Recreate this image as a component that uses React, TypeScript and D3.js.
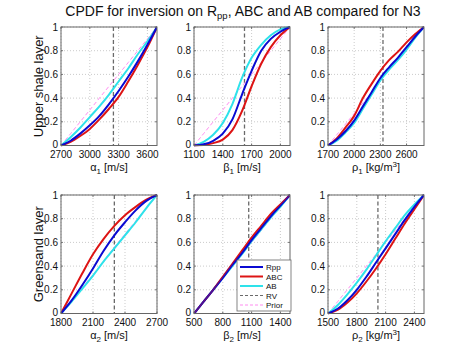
import React from "react";
import * as d3 from "d3";

// ---------- DATA ----------
const xA1 = [2700, 2800, 2900, 3000, 3100, 3200, 3300, 3400, 3500, 3600, 3700];
const rppA1 = [0, 0.04, 0.1, 0.17, 0.25, 0.35, 0.46, 0.58, 0.71, 0.85, 1.0];
const abcA1 = [0, 0.03, 0.08, 0.14, 0.22, 0.31, 0.41, 0.54, 0.68, 0.83, 1.0];
const abA1 = [0, 0.07, 0.15, 0.24, 0.33, 0.43, 0.54, 0.65, 0.77, 0.88, 1.0];
const priorA1 = [0, 0.1, 0.2, 0.3, 0.4, 0.5, 0.6, 0.7, 0.8, 0.9, 1.0];

const xB1 = [1100, 1200, 1300, 1400, 1500, 1600, 1700, 1800, 1900, 2000, 2100];
const rppB1 = [0, 0.01, 0.04, 0.1, 0.22, 0.43, 0.63, 0.8, 0.9, 0.96, 1.0];
const abcB1 = [0, 0.005, 0.02, 0.05, 0.13, 0.29, 0.5, 0.69, 0.83, 0.93, 1.0];
const abB1 = [0, 0.03, 0.09, 0.19, 0.35, 0.57, 0.74, 0.85, 0.93, 0.98, 1.0];
const priorB1 = [0, 0.1, 0.2, 0.3, 0.4, 0.5, 0.6, 0.7, 0.8, 0.9, 1.0];

const xR1 = [1700, 1800, 1900, 2000, 2100, 2200, 2300, 2400, 2500, 2600, 2700, 2800];
const rppR1 = [0, 0.05, 0.12, 0.21, 0.33, 0.45, 0.57, 0.66, 0.74, 0.83, 0.92, 1.0];
const abcR1 = [0, 0.06, 0.15, 0.25, 0.4, 0.52, 0.63, 0.72, 0.79, 0.87, 0.94, 1.0];
const abR1 = [0, 0.04, 0.11, 0.19, 0.31, 0.43, 0.55, 0.64, 0.72, 0.81, 0.91, 1.0];
const priorR1 = [0, 0.09, 0.18, 0.27, 0.36, 0.45, 0.55, 0.64, 0.73, 0.82, 0.91, 1.0];

const xA2 = [1800, 1900, 2000, 2100, 2200, 2300, 2400, 2500, 2600, 2700];
const rppA2 = [0, 0.11, 0.24, 0.38, 0.53, 0.66, 0.77, 0.87, 0.95, 1.0];
const abcA2 = [0, 0.17, 0.34, 0.5, 0.63, 0.74, 0.83, 0.9, 0.96, 1.0];
const abA2 = [0, 0.1, 0.21, 0.32, 0.44, 0.55, 0.66, 0.77, 0.89, 1.0];
const priorA2 = [0, 0.11, 0.22, 0.33, 0.44, 0.56, 0.67, 0.78, 0.89, 1.0];

const xB2 = [500, 600, 700, 800, 900, 1000, 1100, 1200, 1300, 1400, 1500];
const rppB2 = [0, 0.1, 0.2, 0.3, 0.41, 0.51, 0.62, 0.72, 0.82, 0.91, 1.0];
const abcB2 = [0, 0.1, 0.2, 0.31, 0.42, 0.53, 0.64, 0.74, 0.84, 0.92, 1.0];
const abB2 = [0, 0.1, 0.2, 0.3, 0.4, 0.5, 0.61, 0.71, 0.81, 0.9, 1.0];
const priorB2 = [0, 0.1, 0.2, 0.3, 0.4, 0.5, 0.6, 0.7, 0.8, 0.9, 1.0];

const xR2 = [1500, 1600, 1700, 1800, 1900, 2000, 2100, 2200, 2300, 2400, 2500];
const rppR2 = [0, 0.04, 0.11, 0.2, 0.31, 0.43, 0.55, 0.67, 0.79, 0.9, 1.0];
const abcR2 = [0, 0.03, 0.09, 0.17, 0.27, 0.38, 0.5, 0.63, 0.76, 0.88, 1.0];
const abR2 = [0, 0.07, 0.16, 0.26, 0.37, 0.49, 0.61, 0.72, 0.83, 0.92, 1.0];
const priorR2 = [0, 0.1, 0.2, 0.3, 0.4, 0.5, 0.6, 0.7, 0.8, 0.9, 1.0];

const rvValues = [3246, 1626, 2330, 2300, 1070, 2020];
const xDomains: [number, number][] = [
  [2700, 3700], [1100, 2100], [1700, 2800],
  [1800, 2700], [500, 1500], [1500, 2500],
];
const xTickSets = [
  [2700, 3000, 3300, 3600], [1100, 1400, 1700, 2000], [1700, 2000, 2300, 2600],
  [1800, 2100, 2400, 2700], [500, 800, 1100, 1400], [1500, 1800, 2100, 2400],
];
const yTicks = [0, 0.2, 0.4, 0.6, 0.8, 1];
const yTickLabels = ["0", "0.2", "0.4", "0.6", "0.8", "1"];
const seriesNames = ["Rpp", "ABC", "AB", "RV", "Prior"];
const rowLabels = ["Upper shale layer", "Greensand layer"];
const axisSym = ["α", "β", "ρ", "α", "β", "ρ"];
const axisSub = ["1", "1", "1", "2", "2", "2"];
const axisUnit = ["m/s", "m/s", "kg/m", "m/s", "m/s", "kg/m"];

const panels = [
  { x: xA1, rpp: rppA1, abc: abcA1, ab: abA1, prior: priorA1 },
  { x: xB1, rpp: rppB1, abc: abcB1, ab: abB1, prior: priorB1 },
  { x: xR1, rpp: rppR1, abc: abcR1, ab: abR1, prior: priorR1 },
  { x: xA2, rpp: rppA2, abc: abcA2, ab: abA2, prior: priorA2 },
  { x: xB2, rpp: rppB2, abc: abcB2, ab: abB2, prior: priorB2 },
  { x: xR2, rpp: rppR2, abc: abcR2, ab: abR2, prior: priorR2 },
];

// ---------- STYLE ----------
const W = 474, H = 355;
const colLeft = [61, 194, 328];
const rowTop = [27, 195];
const PW = 96, PH = 118.5;
const C_RPP = "#0a0ad2", C_ABC = "#dd1414", C_AB = "#2ee2ea", C_PRIOR = "#ff8cf0", C_RV = "#6a6a6a";
const FONT = "'Liberation Sans', Arial, Helvetica, sans-serif";

function Panel({ i }: { i: number }) {
  const r = Math.floor(i / 3), c = i % 3;
  const left = colLeft[c], top = rowTop[r];
  const x = d3.scaleLinear().domain(xDomains[i]).range([left, left + PW]);
  const y = d3.scaleLinear().domain([0, 1]).range([top + PH, top]);
  const p = panels[i];
  const line = (vals: number[]) =>
    d3.line<number>().x((_, k) => x(p.x[k])).y((v) => y(v)).curve(d3.curveMonotoneX)(vals) || "";
  const clipId = `clip${i}`;
  const xt = xTickSets[i];
  return (
    <g>
      <defs>
        <clipPath id={clipId}>
          <rect x={left} y={top - 1} width={PW} height={PH + 2} />
        </clipPath>
      </defs>
      <rect x={left} y={top} width={PW} height={PH} fill="#fff" />
      {/* grid */}
      {xt.map((t) => (
        <line key={"gx" + t} x1={x(t)} x2={x(t)} y1={top} y2={top + PH} stroke="#b4b4b4" strokeWidth={0.7} strokeDasharray="1,2" />
      ))}
      {yTicks.map((t) => (
        <line key={"gy" + t} x1={left} x2={left + PW} y1={y(t)} y2={y(t)} stroke="#b4b4b4" strokeWidth={0.7} strokeDasharray="1,2" />
      ))}
      <g clipPath={`url(#${clipId})`}>
        <line x1={x(rvValues[i])} x2={x(rvValues[i])} y1={top} y2={top + PH} stroke={C_RV} strokeWidth={1.3} strokeDasharray="4,2.5" />
        <path d={line(p.prior)} fill="none" stroke={C_PRIOR} strokeWidth={1} strokeDasharray="4,2.5" />
        <path d={line(p.ab)} fill="none" stroke={C_AB} strokeWidth={2} />
        <path d={line(p.abc)} fill="none" stroke={C_ABC} strokeWidth={2} />
        <path d={line(p.rpp)} fill="none" stroke={C_RPP} strokeWidth={2} />
        {i === 4 && (
          <path d={line(p.abc)} fill="none" stroke={C_ABC} strokeWidth={1} strokeOpacity={0.6} />
        )}
      </g>
      {/* ticks */}
      {xt.map((t) => (
        <g key={"tx" + t}>
          <line x1={x(t)} x2={x(t)} y1={top + PH} y2={top + PH - 2} stroke="#555" strokeWidth={0.8} />
          <line x1={x(t)} x2={x(t)} y1={top} y2={top + 2} stroke="#555" strokeWidth={0.8} />
          <text x={x(t)} y={top + PH + 12} fontSize={10} textAnchor="middle" fill="#111">{t}</text>
        </g>
      ))}
      {yTicks.map((t, k) => (
        <g key={"ty" + t}>
          <line x1={left} x2={left + 2} y1={y(t)} y2={y(t)} stroke="#555" strokeWidth={0.8} />
          <line x1={left + PW} x2={left + PW - 2} y1={y(t)} y2={y(t)} stroke="#555" strokeWidth={0.8} />
          <text x={left - 3} y={y(t) + (k === 0 ? 2 : 3.5)} fontSize={10} textAnchor="end" fill="#111">{yTickLabels[k]}</text>
        </g>
      ))}
      <rect x={left} y={top} width={PW} height={PH} fill="none" stroke="#666" strokeWidth={1} />
      {/* x label */}
      <text x={left + PW / 2} y={top + PH + 25.5} fontSize={11} textAnchor="middle" fill="#111">
        {axisSym[i]}
        <tspan fontSize={8} dy={3}>{axisSub[i]}</tspan>
        <tspan dy={-3}>{" [" + axisUnit[i]}</tspan>
        {axisUnit[i] === "kg/m" ? (
          <>
            <tspan fontSize={8} dy={-4}>3</tspan>
            <tspan dy={4}>]</tspan>
          </>
        ) : (
          <tspan>]</tspan>
        )}
      </text>
      {i === 4 && <Legend />}
    </g>
  );
}

function Legend() {
  const lx = 237, ly = 260, lw = 54, lh = 51;
  const styles = [
    { c: C_RPP, w: 2, d: "" },
    { c: C_ABC, w: 2, d: "" },
    { c: C_AB, w: 2, d: "" },
    { c: C_RV, w: 1, d: "3,2" },
    { c: C_PRIOR, w: 1, d: "3,2" },
  ];
  return (
    <g>
      <rect x={lx} y={ly} width={lw} height={lh} fill="#fff" stroke="#666" strokeWidth={0.8} />
      {seriesNames.map((n, k) => {
        const yy = ly + 7 + k * 9.5;
        return (
          <g key={n}>
            <line x1={lx + 3} x2={lx + 26} y1={yy} y2={yy} stroke={styles[k].c} strokeWidth={styles[k].w} strokeDasharray={styles[k].d} />
            <text x={lx + 29} y={yy + 3} fontSize={8} fill="#111">{n}</text>
          </g>
        );
      })}
    </g>
  );
}

export default function App() {
  return (
    <svg width={W} height={H} style={{ position: "absolute", left: 0, top: 0, fontFamily: FONT }}>
      <rect x={0} y={0} width={W} height={H} fill="#fff" />
      <text x={243} y={16} fontSize={14} textAnchor="middle" fill="#111">
        CPDF for inversion on R
        <tspan fontSize={9.5} dy={3}>pp</tspan>
        <tspan dy={-3}>, ABC and AB compared for N3</tspan>
      </text>
      {rowLabels.map((l, r) => (
        <text
          key={l}
          transform={`translate(43,${rowTop[r] + PH / 2}) rotate(-90)`}
          fontSize={13}
          textAnchor="middle"
          fill="#111"
        >
          {l}
        </text>
      ))}
      {panels.map((_, i) => (
        <Panel key={i} i={i} />
      ))}
    </svg>
  );
}
